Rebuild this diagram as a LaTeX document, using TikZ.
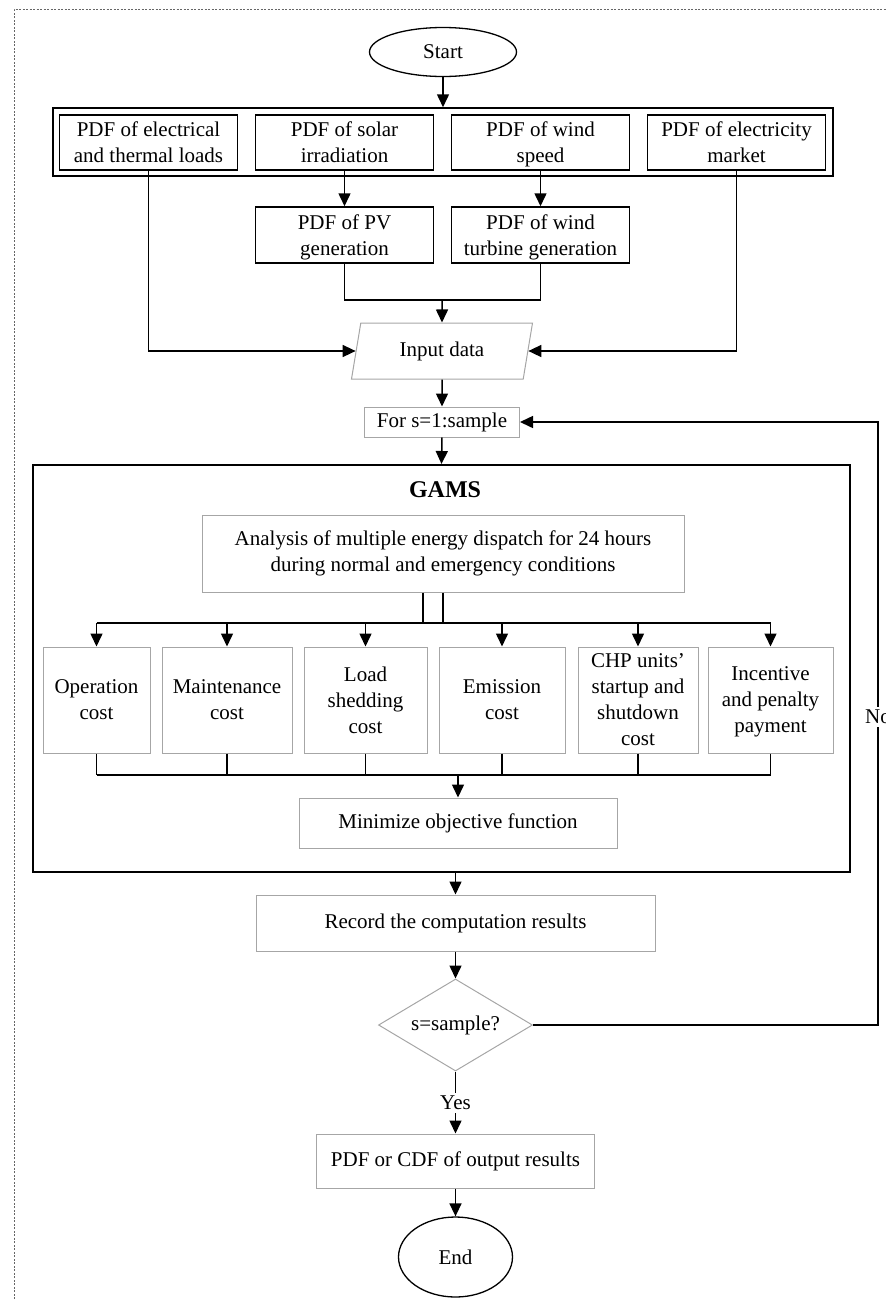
\documentclass[tikz,border=0pt]{standalone}
\usepackage{fontspec}
\setmainfont{Liberation Serif}
\usetikzlibrary{shapes.geometric, arrows.meta, positioning, calc}

\begin{document}
\begin{tikzpicture}[x=1pt, y=-1pt,
  every node/.style={font=\fontsize{21}{26}\selectfont, align=center, inner sep=0pt},
  blackbox/.style={draw, line width=1.5pt, rectangle},
  graybox/.style={draw=gray!70, line width=1pt, rectangle},
  costbox/.style={graybox, minimum height=106pt, text depth=0pt},
  pdfbox/.style={blackbox, minimum width=178pt, minimum height=55pt, text depth=0pt},
  arr/.style={line width=1.5pt, -{Triangle[length=13pt, width=12pt]}},
  plain/.style={line width=1.5pt}]
\useasboundingbox (0,0) rectangle (886,1299);

% dotted frame
\draw[gray!80!black, line width=1pt, dash pattern=on 2pt off 1.5pt] (14,1299) -- (14,9) -- (886,9);

% start and input pdfs
\node[draw, ellipse, line width=1.3pt, minimum width=147pt, minimum height=49pt] (start) at (443,52) {Start};
\node[blackbox, minimum width=780pt, minimum height=68pt] (group) at (443,142) {};
\node[pdfbox] (elec) at (148.5,142.5) {PDF of electrical\\and thermal loads};
\node[pdfbox] (solar) at (344.5,142.5) {PDF of solar\\irradiation};
\node[pdfbox] (wind) at (540.5,142.5) {PDF of wind\\speed};
\node[pdfbox] (market) at (736.5,142.5) {PDF of electricity\\market};
\node[pdfbox, minimum height=56pt] (pv) at (344.5,235) {PDF of PV\\generation};
\node[pdfbox, minimum height=56pt] (wturb) at (540.5,235) {PDF of wind\\turbine generation};

\node[draw=gray!70, line width=1pt, trapezium, trapezium left angle=64, trapezium right angle=116,
  trapezium stretches body, minimum width=181pt, minimum height=56pt] (input) at (442,351) {Input data};
\node[graybox, minimum width=155pt, minimum height=30pt] (forloop) at (442,422) {For s=1:sample};

% GAMS block
\node[draw, line width=2pt, minimum width=817pt, minimum height=407pt] (gams) at (441.5,668.5) {};
\node[font=\bfseries\fontsize{24}{28}\selectfont] (gamslbl) at (445,490) {GAMS};
\node[graybox, minimum width=482pt, minimum height=77pt] (analysis) at (443,553.5)
  {Analysis of multiple energy dispatch for 24 hours\\during normal and emergency conditions};
\node[costbox, minimum width=107pt] (op) at (96.5,700) {Operation\\cost};
\node[costbox, minimum width=130pt] (maint) at (227,700) {Maintenance\\cost};
\node[costbox, minimum width=123pt] (load) at (365.5,700) {Load\\shedding\\cost};
\node[costbox, minimum width=126pt] (emis) at (502,700) {Emission\\cost};
\node[costbox, minimum width=120pt] (chp) at (638,700) {CHP units'\\startup and\\shutdown\\cost};
\node[costbox, minimum width=125pt] (incent) at (770.5,700) {Incentive\\and penalty\\payment};
\node[graybox, minimum width=318pt, minimum height=50pt] (minimize) at (458,823) {Minimize objective function};

% after GAMS
\node[graybox, minimum width=399pt, minimum height=56pt] (record) at (455.5,923) {Record the computation results};
\node[diamond, draw=gray!70, line width=1pt, aspect=1.67, minimum width=154pt, minimum height=92pt] (check) at (455.5,1025) {s=sample?};
\node[graybox, minimum width=278pt, minimum height=54pt] (output) at (455.5,1161) {PDF or CDF of output results};
\node[draw, ellipse, line width=1.3pt, minimum width=114pt, minimum height=80pt] (stop) at (455.5,1257) {End};

% connectors
\coordinate (merge) at (442,300);
\coordinate (bus) at (443,623);
\coordinate (join) at (458,775);
\coordinate (noturn) at (878,717);
\draw[arr] (start.south) -- (group.north);
\draw[arr] (solar.south) -- (pv.north);
\draw[arr] (wind.south) -- (wturb.north);
\draw[plain] (pv.south) |- (merge) -| (wturb.south);
\draw[arr] (merge) -- (input.north);
\draw[arr] (elec.south) |- (input.west);
\draw[arr] (market.south) |- (input.east);
\draw[arr] (input.south) -- (forloop.north);
\draw[arr] (forloop.south) -- (gams.north);

\draw[plain] ([xshift=-20pt]analysis.south) -- ([xshift=-20pt]analysis.south |- bus);
\draw[plain] (analysis.south) -- (analysis.south |- bus);
\draw[plain] (op.north |- bus) -- (incent.north |- bus);
\foreach \n in {op,maint,load,emis,chp,incent} {
  \draw[arr] (\n.north |- bus) -- (\n.north);
  \draw[plain] (\n.south) -- (\n.south |- join);
}
\draw[plain] (op.south |- join) -- (incent.south |- join);
\draw[arr] (join) -- (minimize.north);

\draw[arr] (record.north |- gams.south) -- (record.north);
\draw[arr] (record.south) -- (check.north);
\draw[arr] (check.east) -| (noturn) |- (forloop.east);
\node[fill=white, inner sep=3pt] (no) at (noturn) {No};
\node[inner sep=3pt] (yes) at (455.5,1103) {Yes};
\draw[plain] (check.south) -- (yes.north);
\draw[arr] (yes.south) -- (output.north);
\draw[arr] (output.south) -- (stop.north);
\end{tikzpicture}
\end{document}
